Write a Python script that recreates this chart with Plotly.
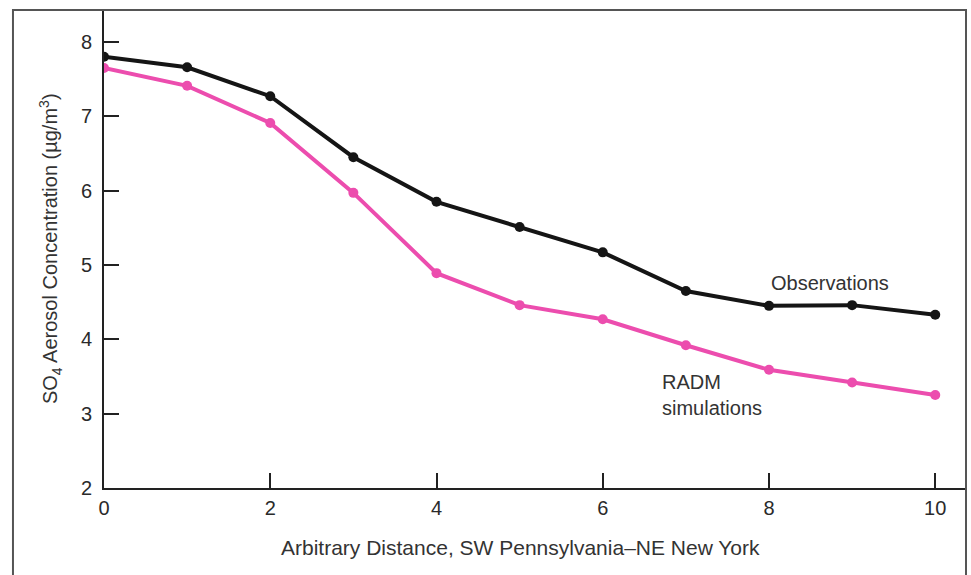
import plotly.graph_objects as go

distance = [0, 1, 2, 3, 4, 5, 6, 7, 8, 9, 10]
observations = [7.80, 7.66, 7.27, 6.45, 5.85, 5.51, 5.17, 4.65, 4.45, 4.46, 4.33]
radm = [7.65, 7.41, 6.91, 5.97, 4.89, 4.46, 4.27, 3.92, 3.59, 3.42, 3.25]
x_ticks = [0, 2, 4, 6, 8, 10]
y_ticks = [2, 3, 4, 5, 6, 7, 8]

font_family = "Liberation Sans, Arial, Helvetica, sans-serif"
pink = "#EC4DAE"
black = "#151515"

fig = go.Figure()
fig.add_trace(go.Scatter(x=distance, y=observations, mode="lines+markers",
                         line=dict(color=black, width=4),
                         marker=dict(color=black, size=10), name="Observations"))
fig.add_trace(go.Scatter(x=distance, y=radm, mode="lines+markers",
                         line=dict(color=pink, width=4),
                         marker=dict(color=pink, size=10), name="RADM simulations"))

fig.update_layout(
    width=971, height=575,
    margin=dict(l=104, r=5, t=10, b=87),
    paper_bgcolor="white", plot_bgcolor="white",
    showlegend=False,
    font=dict(family=font_family, size=20, color="#333333"),
    xaxis=dict(range=[0, 10.37], tickvals=x_ticks, ticks="inside", ticklen=15,
               tickwidth=2, tickcolor="#222", showline=True, linecolor="#222",
               linewidth=2, showgrid=False, zeroline=False, ticklabelstandoff=1,
               tickfont=dict(size=20, color="#2a2a2a")),
    yaxis=dict(range=[2, 8.43], tickvals=y_ticks, ticks="inside", ticklen=15,
               tickwidth=2, tickcolor="#222", showline=True, linecolor="#222",
               linewidth=2, showgrid=False, zeroline=False, ticklabelstandoff=6,
               tickfont=dict(size=20, color="#2a2a2a")),
    shapes=[dict(type="rect", xref="paper", yref="paper",
                 x0=-0.1056, x1=1.0, y0=-0.3, y1=1.0,
                 line=dict(color="#555555", width=2), layer="above")],
    annotations=[
        dict(text="Arbitrary Distance, SW Pennsylvania–NE New York",
             xref="paper", yref="paper", x=0.4826, y=-0.1255,
             xanchor="center", yanchor="middle", showarrow=False,
             font=dict(size=21, color="#333")),
        dict(text="SO<sub>4</sub> Aerosol Concentration (µg/m<sup>3</sup>)",
             xref="paper", yref="paper", x=-0.0626, y=0.5, textangle=-90,
             xanchor="center", yanchor="middle", showarrow=False,
             font=dict(size=20, color="#333")),
        dict(text="Observations", x=8.0, y=4.76, xanchor="left", yanchor="middle",
             showarrow=False, font=dict(size=20, color="#333")),
        dict(text="RADM<br>simulations", x=6.69, y=3.25, xanchor="left",
             yanchor="middle", align="left", showarrow=False,
             font=dict(size=20, color="#333")),
    ],
)

fig.write_html("out.html")
